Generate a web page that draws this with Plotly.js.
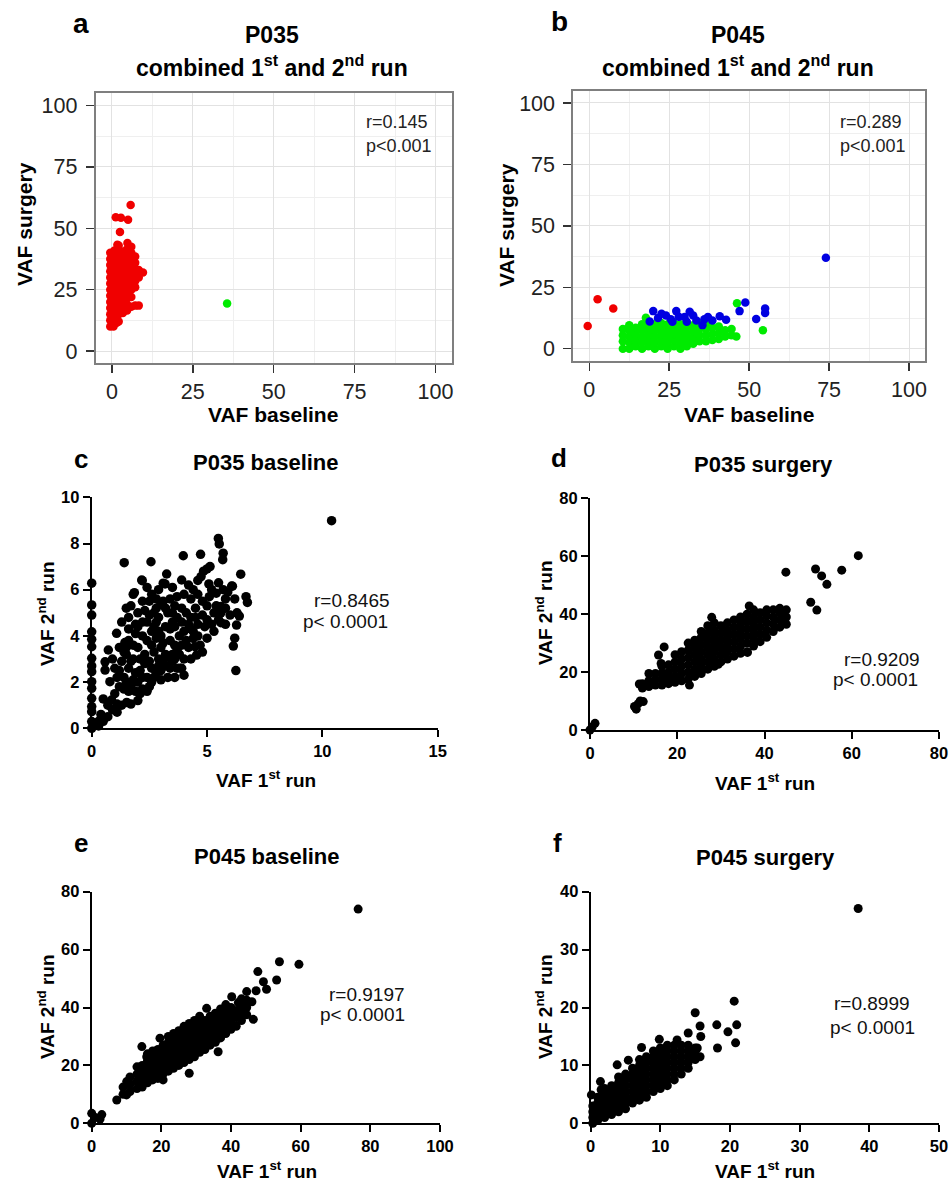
<!DOCTYPE html>
<html>
<head>
<meta charset="utf-8">
<script src="https://cdn.plot.ly/plotly-3.0.1.min.js"></script>
<style>html,body{margin:0;padding:0;background:#fff}#chart{width:949px;height:1185px}</style>
</head>
<body>
<div id="chart"></div>
<script>
// ---------------- DATA ----------------
// Panel a: P035 combined 1st and 2nd run  [VAF baseline, VAF surgery]
const p035CombinedRed = [
[-0.5,10],[-0.5,12.5],[-0.5,15],[-0.5,17.5],[-0.5,20],[-0.5,22.5],[-0.5,25],[-0.5,27.5],[-0.5,30],[-0.5,32.5],[-0.5,35],[-0.5,37.5],[-0.5,40],
[0.8,11],[0.8,13.5],[0.8,16],[0.8,18.5],[0.8,21],[0.8,23.5],[0.8,26],[0.8,28.5],[0.8,31],[0.8,33.5],[0.8,36],[0.8,38.5],[0.8,41],
[2.1,12],[2.1,15],[2.1,17.5],[2.1,20],[2.1,22.5],[2.1,25],[2.1,27.5],[2.1,30],[2.1,32.5],[2.1,35],[2.1,37.5],[2.1,40],[2.1,43],
[3.4,15.5],[3.4,18],[3.4,20.5],[3.4,23],[3.4,25.5],[3.4,28],[3.4,30.5],[3.4,33],[3.4,35.5],[3.4,38],[3.4,40.5],
[4.7,16.5],[4.7,19],[4.7,21.5],[4.7,24],[4.7,26.5],[4.7,29],[4.7,31.5],[4.7,34],[4.7,36.5],[4.7,39],[4.7,41.5],
[6,18],[6,22],[6,25],[6,27.5],[6,30],[6,32.5],[6,35],[6,37.5],[6,40],[6,42.5],
[7.2,18.5],[7.2,26],[7.2,28.5],[7.2,31],[7.2,33.5],[7.2,36],[7.2,38.5],
[8.3,18.5],[8.3,30],[8.3,33],[9.6,32],
[5.8,59.5],[1.2,54.5],[2.8,54.3],[5,53.5],[2.5,48.5],[0.5,10],[1.5,11.5],[1.7,43.3],[4.8,44]
];
const p035CombinedGreen = [[35.6,19.4]];

// Panel b: P045 combined 1st and 2nd run
const p045CombinedGreen = [
[10.5,0],[10.5,3],[10.5,5.5],[10.5,8],
[12.5,0],[12.5,2.5],[12.5,5],[12.5,7.5],[12.5,9.5],
[14.5,1],[14.5,3.5],[14.5,6],[14.5,8.5],
[16.5,0],[16.5,2.5],[16.5,5],[16.5,7.5],[16.5,10],[17.7,12.6],
[18.5,1],[18.5,3.5],[18.5,6],[18.5,8.5],[18.5,10.5],
[20.5,0],[20.5,2.5],[20.5,5],[20.5,7.5],[20.5,10],
[22.5,1],[22.5,3.5],[22.5,6],[22.5,8.5],[22.5,10.5],
[24.5,0],[24.5,2.5],[24.5,5],[24.5,7.5],[24.5,10],
[26.5,1],[26.5,3.5],[26.5,6],[26.5,8.5],[26.5,10.5],
[28.5,0],[28.5,2.5],[28.5,5],[28.5,7.5],[28.5,10],
[30.5,1],[30.5,3.5],[30.5,6],[30.5,8.5],[30.5,10],
[32.5,2],[32.5,4.5],[32.5,7],[32.5,9.5],
[34.5,3],[34.5,5.5],[34.5,8],[34.5,10],
[36.5,3],[36.5,5.5],[36.5,8],[36.5,10],
[38.5,3.5],[38.5,6],[38.5,8.5],
[40.5,4],[40.5,6.5],[40.5,9],
[42.5,5],[42.5,7.5],[44.5,5.5],[44.5,8],
[46,5],[46.2,18.5],[54.3,7.5]
];
const p045CombinedBlue = [
[74,37],[48.8,18.8],[47,15.3],[52.2,12.1],[55,16.4],[55,14.5],
[20,15.3],[18.9,11.1],[22.6,14.2],[21.5,12.5],[24,13.5],[25.5,12],[27.2,15.3],[28,13],
[29.8,12.9],[31.4,15],[32.5,13.5],[33.5,11.5],[35.4,9.6],[36,12],[37.1,12.9],[38.5,11.5],
[40.8,13.2],[42.8,11.8],[26,11],[30.5,11]
];
const p045CombinedRed = [[-0.5,9.2],[2.6,20.1],[7.5,16.4]];

// Panel c: P035 baseline  [VAF 1st run, VAF 2nd run]
const p035Baseline = [
[0,6.28],[0,5.34],[0,4.9],[0,4.18],[0,3.53],[0,3.03],[0,2.45],[0,2.02],[0,1.73],[0,0.94],[0,0.72],[0,0.29],[0,0],[0,3.85],[0,2.7],[0,1.3],
[10.4,8.99],[6.25,2.5],[1.41,7.17],[2.57,7.21],[3.97,7.47],[4.72,7.53],[5.49,8.22],[5.53,7.98],[5.7,7.58],[5.68,7.3],
[6.46,6.67],[6.69,5.7],[6.75,5.45],[6.4,4.86],[6.28,4.47],[6.14,3.56],
[3.25,6.68],[3.1,6.28],[2.17,6.42],[3.9,6.42],[5.08,6.25],[5.13,7.0],[4.74,6.57],[4.6,6.4],[4.85,6.8],[5.0,6.9],
[1.85,5.87],[2.19,6.39],[3.18,6.25],
[5.6,5.27],[5.6,4.57],[6.07,6.16],[5.9,5.9],[6.1,6.15],[5.8,5.6],[5.3,5.0],[5.0,5.3],[5.4,5.85],
[4.55,3.17],[4.48,3.53],[4.4,3.89],[3.83,2.6],
[1.44,3.71],[1.08,4.11],[0.72,3.39],[0.58,2.88],[0.58,2.52],[0.79,2.02],[0.5,1.27],[0.86,1.22],[1.52,1.12],
[0.3,0.1],[0.5,0.3],[0.7,0.5],[0.9,0.8],[1.1,1.05],[0.4,0.6],[1.3,1.0],[1.7,1.05],[1.0,1.5],
[1.2,1.8],[1.4,2.2],[1.6,2.6],[1.2,2.5],[1.3,2.9],[1.5,3.2],[1.8,3.0],[1.9,2.4],[1.7,1.8],[2.0,2.0],
[2.2,1.7],[2.1,2.5],[2.3,3.2],[2.0,3.5],[1.8,3.6],[2.2,4.0],[2.4,3.8],[2.5,2.9],[2.4,2.2],[2.6,2.0],
[2.8,2.4],[2.7,3.3],[2.9,3.0],[3.0,2.5],[3.2,2.7],[3.0,3.5],[2.6,4.2],[2.8,4.6],[3.0,4.0],[3.2,4.4],
[3.4,3.8],[3.5,3.2],[3.7,2.6],[3.9,2.6],[3.6,3.6],[3.8,4.0],[3.3,5.0],[3.0,5.4],[2.7,5.0],[2.5,5.5],
[2.3,5.1],[2.0,5.0],[1.8,5.8],[2.2,5.5],[2.6,5.8],[2.8,5.6],[3.1,5.5],[3.4,5.6],[3.7,5.7],[4.0,5.8],
[4.1,5.0],[3.9,4.6],[4.3,4.8],[4.5,5.2],[4.6,4.5],[4.4,4.2],[4.2,3.5],[4.8,4.9],[4.8,5.5],[5.5,4.7],
[5.8,4.5],[5.6,5.0],[5.7,6.0],[4.2,6.2],[3.5,5.0],[3.6,4.4],[2.9,4.8],[3.4,4.3],[3.3,2.2],[2.5,1.8],
[2.1,1.5],[2.4,1.6],[3.8,3.2],[4.3,3.0],[4.0,4.2],[3.0,2.1],[1.6,1.6],[1.4,1.7],[1.7,2.9],[1.4,3.3],
[2.3,2.8],[3.1,2.9],[2.9,4.2],[1.2,3.5],[1.6,4.3],[1.9,4.5],[2.4,4.6],[1.5,5.2],[1.3,4.6],
[1.1,2.2],[1.5,2.0],[1.8,2.1],[2.2,2.2],[2.6,2.6],[2.9,2.7],[3.2,3.2],[3.5,2.9],[3.7,3.4],[4.0,3.0],
[4.1,3.8],[4.3,4.3],[4.6,4.0],[4.7,3.6],[4.9,4.4],[5.2,4.5],[5.4,5.3],[5.1,5.7],[4.6,5.8],[4.3,5.6],
[3.9,5.2],[3.6,5.3],[3.2,5.2],[2.8,5.2],[2.5,4.9],[2.2,4.6],[1.9,4.1],[1.6,3.8],[1.5,3.5],[2.1,3.0],
[2.6,3.6],[2.8,3.9],[3.1,3.7],[3.3,3.1],[3.6,3.0],[3.4,2.6],[2.7,2.2],[3.6,2.2],[4.0,2.3],[2.0,1.2],
[1.9,1.6],[1.1,0.7],[0.7,1.0],[0.3,0.3],[1.0,2.6],[0.9,3.0],[4.4,6.0],[5.2,6.0],[5.5,6.3],[3.5,6.1],
[2.9,6.0],[2.4,6.1],[1.7,5.3],[1.6,4.8],[2.0,4.4],[2.7,4.4],[3.5,4.6],[4.2,4.5],[5.0,4.7],[5.3,4.2],
[5.0,3.9],[4.8,3.3],[3.9,3.6],[3.7,4.8],[4.5,4.8],[5.8,5.2],[6.2,5.6],[6.3,5.0],[6.0,4.9],[6.2,3.9]
];

// Panel d: P035 surgery
const p035Surgery = [
[0,0],[1.15,2.3],[0.5,1],
[10.2,8.1],[11,9],[12.2,9.8],[11.5,10],[10.6,7.2],
[12,14.5],[12,16],[13.5,15],[13.5,17],[13.5,19.5],
[15,15.5],[15,17.5],[15,19.5],[16.5,15.5],[16.5,17.5],[16.5,19.5],[16.5,22],
[18,16],[18,18],[18,20],[18,22.5],[19.5,16.5],[19.5,18.5],[19.5,21],[19.5,23.5],[19.5,26],
[21,17],[21,19.5],[21,22],[21,24.5],[21,27],
[22.5,17.5],[22.5,20],[22.5,22.5],[22.5,25],[22.5,27.5],[22.5,30],
[24,18.5],[24,21],[24,23.5],[24,26],[24,28.5],[24,31],
[25.5,19.5],[25.5,22],[25.5,24.5],[25.5,27],[25.5,29.5],[25.5,32],[25.5,34],
[27,21],[27,23.5],[27,26],[27,28.5],[27,31],[27,33.5],[27,36],
[28.5,22],[28.5,24.5],[28.5,27],[28.5,29.5],[28.5,32],[28.5,34.5],[28.5,37],
[30,23.5],[30,26],[30,28.5],[30,31],[30,33.5],[30,36],
[31.5,24.5],[31.5,27],[31.5,29.5],[31.5,32],[31.5,34.5],[31.5,37],
[33,25.5],[33,28],[33,30.5],[33,33],[33,35.5],[33,38],
[34.5,26.5],[34.5,29],[34.5,31.5],[34.5,34],[34.5,36.5],[34.5,39],
[36,27],[36,30],[36,32.5],[36,35],[36,37.5],[36,40],[36.5,42.8],
[37.5,29],[37.5,31.5],[37.5,34],[37.5,36.5],[37.5,39],[37.5,41.5],
[39,30.5],[39,33],[39,35.5],[39,38],[39,40.5],
[40.5,32],[40.5,34.5],[40.5,37],[40.5,39.5],[40.5,41.5],
[42,34],[42,36.5],[42,39],[42,41.5],
[43.5,35.5],[43.5,38],[43.5,40.5],[43.5,42],
[45,36.5],[45,39],[45,41.5],
[61.5,60.2],[57.7,55.2],[51.7,55.6],[53.1,53.2],[54.3,50.3],[50.6,44.1],[52,41.4],[44.9,54.5],
[17,28.7],[15.7,25.9],[16.3,23],[11.3,15.9],[29.4,22.7],[36.1,26.8],[22.8,15.5],[27.9,38.9]
];

// Panel e: P045 baseline
const p045Baseline = [
[0,0],[0,3.45],[2.9,3],[2.4,1.5],[1,2],
[7.2,8.05],[10,9.8],[10.05,14.4],[9,10],[9,12.5],
[11,11],[11,13.5],[11,16],[13,12],[13,14.5],[13,17],[13,19.5],
[14.5,12.5],[14.5,15],[14.5,17.5],[14.5,20],[14.4,26.5],[15.8,23],
[16,14],[16,16.5],[16,19],[16,21.5],[16,24],
[17.5,15],[17.5,17.5],[17.5,20],[17.5,22.5],[17.5,25],
[19,15.5],[19,18],[19,20.5],[19,23],[19,25.5],[19.6,29.4],
[20.5,15],[20.5,17],[20.5,19.5],[20.5,22],[20.5,24.5],[20.5,27],
[22,18],[22,20.5],[22,23],[22,25.5],[22,28],[22,30],
[23.5,19],[23.5,21.5],[23.5,24],[23.5,26.5],[23.5,29],[23.5,31],
[25,20],[25,22.5],[25,25],[25,27.5],[25,30],[25,32],
[26.5,21],[26.5,23.5],[26.5,26],[26.5,28.5],[26.5,31],[26.5,33.5],
[28,17.3],[28,22],[28,24.5],[28,27],[28,29.5],[28,32],[28,34.5],
[29.5,23],[29.5,25.5],[29.5,28],[29.5,30.5],[29.5,33],[29.5,35.5],
[31,24.5],[31,27],[31,29.5],[31,32],[31,34.5],[31,37],
[32.5,25.5],[32.5,28],[32.5,30.5],[32.5,33],[32.5,35.5],[33,39.7],
[34,27],[34,29.5],[34,32],[34,34.5],[34,37],
[35.5,28],[35.5,30.5],[35.5,33],[35.5,35.5],[35.5,38],[36.3,24.7],
[37,29.5],[37,32],[37,34.5],[37,37],[37,39.5],
[38.5,31],[38.5,33.5],[38.5,36],[38.5,38.5],[38.5,41],
[40,32.5],[40,35],[40,37.5],[40,40],[40.2,43.7],
[41.5,33.5],[41.5,36.5],[41.5,39],[42.1,41.7],
[43,35.5],[43,38],[43,40.5],[43,43],
[44.5,37.5],[44.5,40],[44.5,42.5],[44.5,45.5],
[46.4,35.9],[46,42],
[76.5,74],[59.5,54.9],[53.9,55.8],[53.1,49.5],[47.7,52.4],[49.3,48.9],[50.2,46.3],[47.2,45.8]
];

// Panel f: P045 surgery
const p045Surgery = [
[0.3,0],[0.3,1],[0.3,2],[0.3,3],[0.1,4.9],
[1,0.5],[1,1.5],[1,2.5],[1,3.5],[1,4.5],[1.4,7.2],[1.5,5.8],
[2,1],[2,2],[2,3],[2,4],[2,5],[2,6],
[3,1.5],[3,2.5],[3,3.5],[3,4.5],[3,5.5],[3,6.5],
[4,2],[4,3],[4,4],[4,5],[4,6],[4,7],[4,8],[3.8,10.1],
[5,2.5],[5,3.5],[5,4.5],[5,5.5],[5,6.5],[5,7.5],[5,8.5],[5.4,10.9],
[6,3.5],[6,4.5],[6,5.5],[6,6.5],[6,7.5],[6,8.5],[6,9.5],
[7,4],[7,5],[7,6],[7,7],[7,8],[7,9],[7,10],[7,11],[7.3,13.1],
[8,4.5],[8,5.5],[8,6.5],[8,7.5],[8,8.5],[8,9.5],[8,10.5],[8,11.5],
[9,5.5],[9,6.5],[9,7.5],[9,8.5],[9,9.5],[9,10.5],[9,11.5],[9,12.5],
[10,6],[10,7],[10,8],[10,9],[10,10],[10,11],[10,12],[10,13],[9.85,14.5],
[11,6.5],[11,7.5],[11,8.5],[11,9.5],[11,10.5],[11,11.5],[11,12.5],[11,13.5],
[12,7.5],[12,8.5],[12,9.5],[12,10.5],[12,11.5],[12,12.5],[12,13.5],[12.4,14.4],
[13,8.5],[13,9.5],[13,10.5],[13,11.5],[13,12.5],[13,13.5],
[14,9.5],[14,10.5],[14,11.5],[14,12.5],[14,13.5],[14,15.6],
[15,11],[15,12],[15,13],[15.7,11.5],
[38.4,37.1],[20.6,21.1],[20.96,17],[20.8,13.9],[19.7,15.8],[18.1,17],[18.2,13],
[15,19.1],[15.7,16.8],[15.8,15],[15.3,13]
];

const panelLetters = ['a','b','c','d','e','f'];
const panelTitles = ['P035','P045','P035 baseline','P035 surgery','P045 baseline','P045 surgery'];
const combinedSubtitle = 'combined 1<sup>st</sup> and 2<sup>nd</sup> run';
const statR = ['r=0.145','r=0.289','r=0.8465','r=0.9209','r=0.9197','r=0.8999'];
const statP = ['p&lt;0.001','p&lt;0.001','p&lt; 0.0001','p&lt; 0.0001','p&lt; 0.0001','p&lt; 0.0001'];
const xTitleTop = 'VAF baseline', yTitleTop = 'VAF surgery';
const xTitleRun = 'VAF 1<sup>st</sup> run', yTitleRun = 'VAF 2<sup>nd</sup> run';

// ---------------- LAYOUT HELPERS ----------------
const W = 949, H = 1185;
const F = 'Arial, "Liberation Sans", sans-serif';
const dX = (l, r) => [l / W, r / W];
const dY = (t, b) => [1 - b / H, 1 - t / H];
const RED = 'rgb(240,0,0)', GREEN = 'rgb(0,235,0)', BLUE = 'rgb(0,0,225)';

function sc(pts, xa, ya, color, size, clip) {
  return {type: 'scatter', mode: 'markers', x: pts.map(p => p[0]), y: pts.map(p => p[1]),
    xaxis: xa, yaxis: ya, marker: {color: color, size: size}, cliponaxis: clip, hoverinfo: 'skip'};
}
function ggAxis(domain, anchor, standoff) {
  return {domain: domain, anchor: anchor, range: [-5, 105], tick0: 0, dtick: 25,
    showgrid: true, gridcolor: '#e2e2e2', gridwidth: 1,
    minor: {dtick: 12.5, showgrid: true, gridcolor: '#efefef', gridwidth: 1},
    showline: true, mirror: true, linecolor: '#7f7f7f', linewidth: 2,
    ticks: 'outside', ticklen: 8, tickwidth: 1.5, tickcolor: '#333', ticklabelstandoff: standoff,
    tickfont: {family: F, size: 21.5, color: '#222'}, zeroline: false, fixedrange: true};
}
function prismAxis(domain, anchor, range, dtick) {
  return {domain: domain, anchor: anchor, range: range, tick0: 0, dtick: dtick,
    showgrid: false, zeroline: false, showline: true, linecolor: '#000', linewidth: 2,
    ticks: 'outside', ticklen: 7, tickwidth: 2, tickcolor: '#000',
    tickfont: {family: F, size: 16.5, color: '#000', weight: 'bold'}, fixedrange: true};
}
function ann(text, x, y, size, o) {
  o = o || {};
  return {text: text, x: x / W, y: 1 - y / H, xref: 'paper', yref: 'paper', showarrow: false,
    xanchor: o.xa || 'center', yanchor: 'middle', align: o.align || 'center',
    textangle: o.rot || 0,
    font: {family: F, size: size, color: o.color || '#000', weight: o.bold ? 'bold' : 'normal'}};
}

const data = [
  sc(p035CombinedRed, 'x', 'y', RED, 8.5, true),
  sc(p035CombinedGreen, 'x', 'y', GREEN, 8.5, true),
  sc(p045CombinedGreen, 'x2', 'y2', GREEN, 8.5, true),
  sc(p045CombinedBlue, 'x2', 'y2', BLUE, 8.5, true),
  sc(p045CombinedRed, 'x2', 'y2', RED, 8.5, true),
  sc(p035Baseline, 'x3', 'y3', '#000', 9.5, false),
  sc(p035Surgery, 'x4', 'y4', '#000', 9, false),
  sc(p045Baseline, 'x5', 'y5', '#000', 9, false),
  sc(p045Surgery, 'x6', 'y6', '#000', 9, false)
];

const annotations = [
  ann(panelLetters[0], 81, 23, 28, {bold: true}),
  ann(panelLetters[1], 559, 22, 28, {bold: true}),
  ann(panelLetters[2], 81, 459, 26, {bold: true}),
  ann(panelLetters[3], 559, 458, 26, {bold: true}),
  ann(panelLetters[4], 81, 843, 26, {bold: true}),
  ann(panelLetters[5], 557, 843, 26, {bold: true}),
  ann(panelTitles[0], 272, 35.3, 23, {bold: true}),
  ann(combinedSubtitle, 272, 66, 23, {bold: true}),
  ann(panelTitles[1], 737.5, 35.3, 23, {bold: true}),
  ann(combinedSubtitle, 737.5, 66, 23, {bold: true}),
  ann(panelTitles[2], 266, 462, 22, {bold: true}),
  ann(panelTitles[3], 763, 464, 22, {bold: true}),
  ann(panelTitles[4], 267, 856, 22, {bold: true}),
  ann(panelTitles[5], 765, 857, 22, {bold: true}),
  ann(xTitleTop, 273, 415, 21, {bold: true}),
  ann(xTitleTop, 749, 415, 21, {bold: true}),
  ann(yTitleTop, 24, 224, 21, {bold: true, rot: -90}),
  ann(yTitleTop, 506, 225, 21, {bold: true, rot: -90}),
  ann(xTitleRun, 265.5, 779, 19, {bold: true}),
  ann(xTitleRun, 765, 782, 19, {bold: true}),
  ann(xTitleRun, 266.5, 1170, 19, {bold: true}),
  ann(xTitleRun, 765, 1170, 19, {bold: true}),
  ann(yTitleRun, 46, 614, 19, {bold: true, rot: -90}),
  ann(yTitleRun, 544, 613, 19, {bold: true, rot: -90}),
  ann(yTitleRun, 46, 1007, 19, {bold: true, rot: -90}),
  ann(yTitleRun, 544, 1007, 19, {bold: true, rot: -90}),
  ann(statR[0], 364, 122, 18, {xa: 'left', color: '#222'}),
  ann(statP[0], 364, 146, 18, {xa: 'left', color: '#222'}),
  ann(statR[1], 838, 122, 18, {xa: 'left', color: '#222'}),
  ann(statP[1], 838, 146, 18, {xa: 'left', color: '#222'}),
  ann(statR[2], 391.7, 600, 19, {xa: 'right', color: '#111'}),
  ann(statP[2], 390, 621, 19, {xa: 'right', color: '#111'}),
  ann(statR[3], 921.7, 659, 19, {xa: 'right', color: '#111'}),
  ann(statP[3], 920, 679, 19, {xa: 'right', color: '#111'}),
  ann(statR[4], 406.7, 994, 19, {xa: 'right', color: '#111'}),
  ann(statP[4], 406.7, 1014, 19, {xa: 'right', color: '#111'}),
  ann(statR[5], 872, 1003, 19, {color: '#111'}),
  ann(statP[5], 872, 1027, 19, {color: '#111'})
];

const layout = {
  width: W, height: H, margin: {l: 0, r: 0, t: 0, b: 0},
  paper_bgcolor: '#fff', plot_bgcolor: '#fff', showlegend: false,
  font: {family: F},
  xaxis: ggAxis(dX(95.7, 451.7), 'y', 0),
  yaxis: ggAxis(dY(93.3, 363.3), 'x', 4),
  xaxis2: ggAxis(dX(573.3, 925), 'y2', 0),
  yaxis2: ggAxis(dY(90.7, 361), 'x2', 4),
  xaxis3: prismAxis(dX(91.7, 437.7), 'y3', [0, 15], 5),
  yaxis3: prismAxis(dY(497.3, 728.3), 'x3', [0, 10], 2),
  xaxis4: prismAxis(dX(590, 939), 'y4', [0, 80], 20),
  yaxis4: prismAxis(dY(498.3, 730), 'x4', [0, 80], 20),
  xaxis5: prismAxis(dX(91.7, 440), 'y5', [0, 100], 20),
  yaxis5: prismAxis(dY(891.7, 1123.3), 'x5', [0, 80], 20),
  xaxis6: prismAxis(dX(590.7, 939), 'y6', [0, 50], 10),
  yaxis6: prismAxis(dY(891.7, 1123.3), 'x6', [0, 40], 10),
  annotations: annotations
};

Plotly.newPlot('chart', data, layout, {staticPlot: true, displayModeBar: false});
</script>
</body>
</html>
